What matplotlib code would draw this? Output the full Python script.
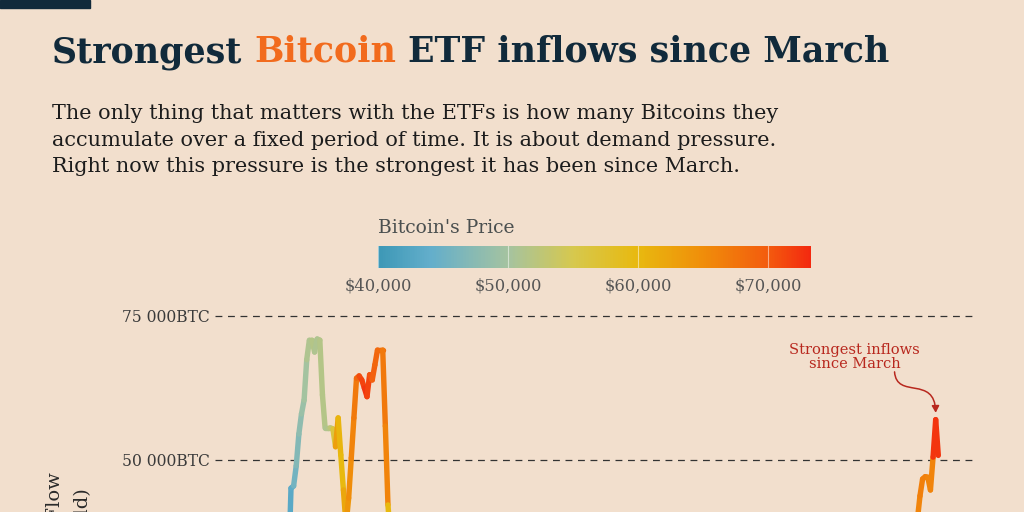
import numpy as np
import matplotlib
matplotlib.use("Agg")
import matplotlib.pyplot as plt
from matplotlib.collections import LineCollection
from matplotlib.colors import LinearSegmentedColormap, Normalize
from matplotlib.patches import FancyArrowPatch, Rectangle
from matplotlib.path import Path
from matplotlib.cm import ScalarMappable

# days since ETF launch (2024-01-11), 30 day net flow in BTC, BTC price in USD
days = [0, 10, 20, 28, 29, 30, 31, 32, 33, 34, 35, 36, 37, 38, 39, 40, 41, 42, 43, 44,
        45, 46, 47, 48, 49, 50, 51, 52, 53, 54, 55, 56, 57, 58, 59, 60, 61, 62, 63, 64,
        65, 66, 67, 80, 110, 140, 170, 200, 230, 255, 265, 268, 269, 270, 271, 272, 273,
        274, 275, 276]
flow = [2000, 15000, 22000, 30000, 45100, 45500, 49000, 54500, 58000, 60400, 67400, 70800,
        70800, 68750, 71000, 70800, 61300, 55600, 55600, 55600, 55400, 52300, 57300, 50870,
        44800, 38700, 43400, 50350, 57300, 64200, 64600, 63900, 62500, 61000, 64800, 63900,
        66500, 69100, 69100, 69100, 55900, 42200, 36000, 15000, -8000, 5000, -12000, 3000,
        12000, 22000, 33000, 39600, 43750, 46700, 47100, 47000, 44800, 50500, 57000, 50800]
price = [46000, 42000, 40000, 42000, 43000, 43500, 45500, 47000, 48000, 49000, 50000, 51000,
         51000, 51500, 51000, 51000, 51500, 51500, 51000, 51500, 52500, 56000, 63000, 60500,
         60000, 62000, 64000, 65000, 66000, 67000, 69000, 71000, 71500, 72500, 71500, 70500,
         69500, 69000, 68500, 68500, 67000, 66000, 60000, 66000, 63000, 67000, 62000, 58000,
         60000, 63000, 63000, 66000, 66000, 66500, 66500, 66500, 66000, 66000, 72500, 72500]

yticks = [50000, 75000]
cbar_ticks = [40000, 50000, 60000, 70000]

bg = "#f2dfcd"
navy = "#112a3b"
orange = "#f26b1d"
W, H = 1024, 512

cmap = LinearSegmentedColormap.from_list("btc", [
    (0.0, "#3d98b6"), (0.12, "#63aecb"), (0.30, "#a5c3a0"), (0.45, "#d6c84e"),
    (0.60, "#e8b90f"), (0.75, "#f08e0a"), (0.90, "#f35c0e"), (1.0, "#f3290f")])
norm = Normalize(40000, 73300)

plt.rcParams["font.family"] = ["DejaVu Serif"]

fig = plt.figure(figsize=(W / 100, H / 100), dpi=100, facecolor=bg)
fig.patches.append(Rectangle((0, 1 - 8 / H), 90 / W, 8 / H, transform=fig.transFigure,
                             color=navy, zorder=5))

# title in three colours
r = fig.canvas.get_renderer()
tkw = dict(fontsize=25.1, fontweight="bold", va="baseline")
sp = fig.text(0, 0, "a a", **tkw)
sp2 = fig.text(0, 0, "aa", **tkw)
gap = sp.get_window_extent(r).width - sp2.get_window_extent(r).width
sp.remove(); sp2.remove()
x = 52
for txt, col in [("Strongest", navy), ("Bitcoin", orange), ("ETF inflows since March", navy)]:
    t = fig.text(x / W, 1 - 62 / H, txt, color=col, **tkw)
    x = t.get_window_extent(r).x1 + gap

sub = ["The only thing that matters with the ETFs is how many Bitcoins they",
       "accumulate over a fixed period of time. It is about demand pressure.",
       "Right now this pressure is the strongest it has been since March."]
for i, line in enumerate(sub):
    fig.text(52 / W, 1 - (119 + 26.5 * i) / H, line, fontsize=14.95, color="#1c1c1c", va="baseline")

# colour legend
fig.text(378 / W, 1 - 233 / H, "Bitcoin's Price", fontsize=13.5, color="#4a4f4f", va="baseline")
cax = fig.add_axes([378 / W, 1 - 268 / H, 433 / W, 22 / H])
cb = fig.colorbar(ScalarMappable(norm=norm, cmap=cmap), cax=cax, orientation="horizontal")
cb.outline.set_visible(False)
cb.set_ticks(cbar_ticks)
cb.set_ticklabels(["${:,}".format(v) for v in cbar_ticks])
cax.tick_params(length=0, pad=7, labelsize=11.7, labelcolor="#555555")
for v in cbar_ticks:
    cax.axvline(v, color="white", lw=0.8, alpha=0.5)

# main chart
ax = fig.add_axes([215 / W, (H - 748) / H, 760 / W, (748 - 287.2) / H])
ax.patch.set_visible(False)
ax.set_xlim(0, 290)
ax.set_ylim(0, 80000)
for s in ax.spines.values():
    s.set_visible(False)
ax.set_xticks([])
ax.set_yticks(yticks)
ax.set_yticklabels(["{:,}BTC".format(v).replace(",", " ") for v in yticks],
                   fontsize=11.2, color="#3a3a3a")
ax.tick_params(axis="y", length=0, pad=4)
for v in yticks:
    ax.axhline(v, color="#333333", lw=0.9, ls=(0, (5.5, 4.5)), zorder=1)

pts = np.column_stack([days, flow])
segs = np.stack([pts[:-1], pts[1:]], axis=1)
lc = LineCollection(segs, colors=cmap(norm(np.array(price[1:]))), linewidths=3.9,
                    capstyle="round", joinstyle="round", zorder=3)
ax.add_collection(lc)

fig.text(55 / W, 1 - 472 / H, "30-Day Net Flow", rotation=90, ha="center", va="top",
         fontsize=14, color="#2a2a2a")
fig.text(83 / W, 1 - 488 / H, "(Bought / Sold)", rotation=90, ha="center", va="top",
         fontsize=14, color="#2a2a2a")

# annotation
red = "#b8281e"
pk = int(np.argmax(flow[-4:])) + len(flow) - 4
tip = (days[pk], flow[pk] + 1200)
ax.text(tip[0] - 31, tip[1] + 9700, "Strongest inflows\nsince March", ha="center", va="center",
        fontsize=10.5, color=red, linespacing=1.0)
verts = [(tip[0] - 15.7, tip[1] + 7100), (tip[0] - 14.9, tip[1] + 2250),
         (tip[0] - 0.4, tip[1] + 6600), tip]
arrow = FancyArrowPatch(path=Path(verts, [Path.MOVETO, Path.CURVE4, Path.CURVE4, Path.CURVE4]),
                        arrowstyle="-|>,head_length=4,head_width=2.2", color=red, lw=1.1,
                        transform=ax.transData)
ax.add_patch(arrow)

fig.savefig("out.png", dpi=100, facecolor=bg)
